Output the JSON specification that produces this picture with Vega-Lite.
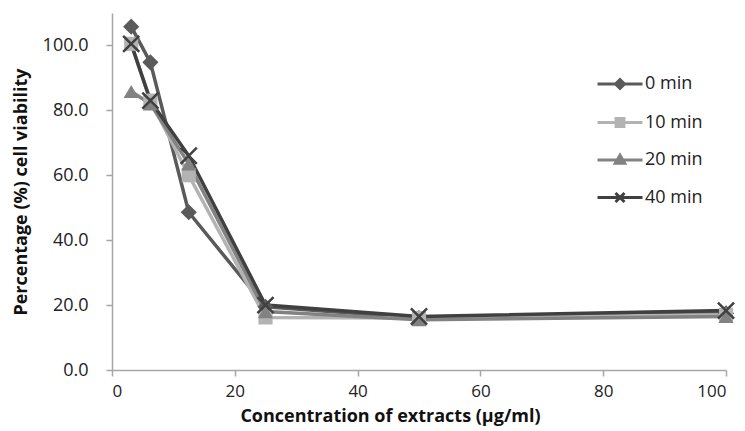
{
  "$schema": "https://vega.github.io/schema/vega-lite/v6.json",
  "autosize": "none",
  "width": 614,
  "height": 357,
  "padding": {"left": 112, "top": 13, "right": 19, "bottom": 61},
  "background": "white",
  "config": {
    "font": "Open Sans",
    "view": {"stroke": null},
    "axis": {"grid": false, "domainColor": "#a6a6a6", "tickColor": "#a6a6a6", "domainWidth": 1.5, "tickWidth": 1.5, "tickSize": 6, "labelFontSize": 18, "labelColor": "#222", "titleFontSize": 18, "titleFontWeight": "bold", "titleColor": "#111"}
  },
  "data": {"values": [
    {"series": "0 min", "conc": 3.125, "v": 105.8},
    {"series": "0 min", "conc": 6.25, "v": 94.8},
    {"series": "0 min", "conc": 12.5, "v": 48.6},
    {"series": "0 min", "conc": 25, "v": 19.5},
    {"series": "0 min", "conc": 50, "v": 16.0},
    {"series": "0 min", "conc": 100, "v": 17.5},
    {"series": "10 min", "conc": 3.125, "v": 100.5},
    {"series": "10 min", "conc": 6.25, "v": 83.0},
    {"series": "10 min", "conc": 12.5, "v": 60.0},
    {"series": "10 min", "conc": 25, "v": 16.2},
    {"series": "10 min", "conc": 50, "v": 16.0},
    {"series": "10 min", "conc": 100, "v": 17.0},
    {"series": "20 min", "conc": 3.125, "v": 85.8},
    {"series": "20 min", "conc": 6.25, "v": 82.0},
    {"series": "20 min", "conc": 12.5, "v": 63.5},
    {"series": "20 min", "conc": 25, "v": 18.0},
    {"series": "20 min", "conc": 50, "v": 15.5},
    {"series": "20 min", "conc": 100, "v": 16.5},
    {"series": "40 min", "conc": 3.125, "v": 100.5},
    {"series": "40 min", "conc": 6.25, "v": 83.0},
    {"series": "40 min", "conc": 12.5, "v": 66.0},
    {"series": "40 min", "conc": 25, "v": 20.0},
    {"series": "40 min", "conc": 50, "v": 16.5},
    {"series": "40 min", "conc": 100, "v": 18.3}
  ]},
  "encoding": {
    "x": {"field": "conc", "type": "quantitative", "scale": {"domain": [0, 100], "nice": false}, "axis": {"values": [0, 20, 40, 60, 80, 100], "title": "Concentration of extracts (μg/ml)", "labelFontSize": 17, "labelPadding": 7, "titleX": 278, "titleY": 37, "titleBaseline": "top"}},
    "y": {"field": "v", "type": "quantitative", "scale": {"domain": [0, 110], "nice": false}, "axis": {"values": [0, 20, 40, 60, 80, 100], "format": ".1f", "title": "Percentage (%) cell viability", "labelPadding": 18, "titlePadding": 12}},
    "color": {"field": "series", "type": "nominal", "scale": {"domain": ["0 min", "10 min", "20 min", "40 min"], "range": ["#5a5a5a", "#b3b3b3", "#828282", "#404040"]},
      "legend": {
        "title": null, "orient": "none", "legendX": 495, "legendY": 58, "labelFontSize": 18, "labelColor": "#222", "labelOffset": 12, "rowPadding": 14.5, "symbolSize": 506, "symbolType": "M-2,0H2",
        "encode": {"symbols": {"update": {
          "shape": {"signal": "datum.value === '0 min' ? 'M-2,0H2M0,-0.4L0.4,0L0,0.4L-0.4,0Z' : datum.value === '10 min' ? 'M-2,0H2M-0.35,-0.35H0.35V0.35H-0.35Z' : datum.value === '20 min' ? 'M-2,0H2M0,-0.42L0.42,0.3H-0.42Z' : 'M-2,0H2M-0.4,-0.4L0.4,0.4M-0.4,0.4L0.4,-0.4'"},
          "fill": {"signal": "scale('color', datum.value)"},
          "stroke": {"signal": "scale('color', datum.value)"},
          "strokeWidth": {"value": 3},
          "size": {"value": 506},
          "opacity": {"value": 1}
        }}}
      }
    }
  },
  "layer": [
    {
      "mark": {"type": "line", "strokeWidth": 3.5},
      "encoding": {"order": {"field": "conc", "type": "quantitative"}}
    },
    {
      "transform": [{"filter": "datum.series === '0 min'"}],
      "mark": {"type": "point", "shape": "diamond", "filled": true, "opacity": 1, "size": 260}
    },
    {
      "transform": [{"filter": "datum.series === '10 min'"}],
      "mark": {"type": "point", "shape": "square", "filled": true, "opacity": 1, "size": 200}
    },
    {
      "transform": [{"filter": "datum.series === '20 min'"}],
      "mark": {"type": "point", "shape": "triangle-up", "filled": true, "opacity": 1, "size": 230}
    },
    {
      "transform": [{"filter": "datum.series === '40 min'"}],
      "mark": {"type": "point", "shape": "M-1,-1L1,1M-1,1L1,-1", "filled": false, "strokeWidth": 2.5, "opacity": 1, "size": 260}
    }
  ]
}
